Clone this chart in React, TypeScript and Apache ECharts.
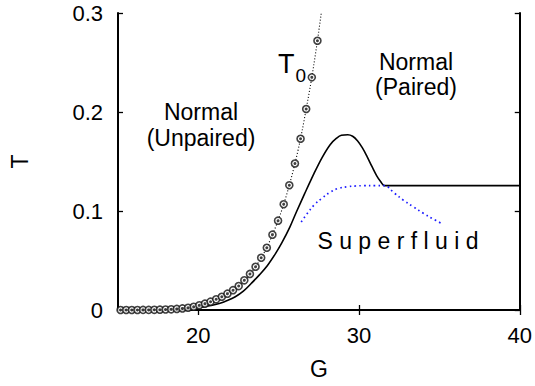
import React, { useEffect, useRef } from "react";
import * as echarts from "echarts";

// T0 (markers)
const t0G = [15.16, 15.51, 15.86, 16.21, 16.56, 16.91, 17.26, 17.61, 17.96, 18.31, 18.66, 19.01, 19.36, 19.71, 20.06, 20.41, 20.76, 21.11, 21.46, 21.81, 22.16, 22.51, 22.86, 23.21, 23.56, 23.91, 24.26, 24.61, 24.96, 25.31, 25.66, 26.01, 26.36, 26.71, 27.06, 27.41];
const t0T = [0, 0, 0, 0, 0.0001, 0.0001, 0.0002, 0.0003, 0.0005, 0.0007, 0.0011, 0.0016, 0.0023, 0.0033, 0.0047, 0.0064, 0.0084, 0.0108, 0.0134, 0.0165, 0.02, 0.0242, 0.03, 0.0364, 0.0437, 0.0528, 0.0629, 0.0761, 0.0902, 0.1068, 0.126, 0.148, 0.173, 0.203, 0.235, 0.272];
// continuation of the T0 dotted line above the frame
const t0ExtraG = [27.8];
const t0ExtraT = [0.318];

// solid curve (Tc)
const tcG = [15, 16, 17, 18, 19, 19.5, 20.2, 20.8, 21.3, 21.8, 22.3, 22.8, 23.3, 23.8, 24.3, 24.8, 25.2, 25.7, 26.1, 26.6, 27.2, 27.7, 28.2, 28.6, 28.9, 29.3, 29.6, 29.9, 30.2, 30.5, 30.8, 31.1, 31.35, 31.58, 35, 40];
const tcT = [0, 0.0001, 0.0002, 0.0004, 0.001, 0.0016, 0.003, 0.0045, 0.0065, 0.0095, 0.0134, 0.019, 0.027, 0.0355, 0.045, 0.057, 0.068, 0.084, 0.099, 0.117, 0.138, 0.154, 0.167, 0.1735, 0.1765, 0.177, 0.1755, 0.171, 0.164, 0.155, 0.145, 0.1355, 0.1295, 0.1256, 0.1256, 0.1256];

// blue dotted curve
const sfG = [26.4, 26.8, 27.2, 27.7, 28.2, 28.7, 29.3, 29.8, 30.3, 31.0, 31.58, 32.2, 32.75, 33.4, 34.0, 34.6, 35.2];
const sfT = [0.089, 0.098, 0.106, 0.113, 0.119, 0.1228, 0.1246, 0.1253, 0.1256, 0.1257, 0.1256, 0.118, 0.111, 0.104, 0.0977, 0.092, 0.0869];

const xTicks = [20, 30, 40];
const yTicks = [0, 0.1, 0.2, 0.3];

const FONT = "'Liberation Sans', Arial, Helvetica, sans-serif";

export default function App() {
  const ref = useRef<HTMLDivElement>(null);
  useEffect(() => {
    if (!ref.current) return;
    const chart = echarts.init(ref.current, undefined, { renderer: "svg" });
    const pair = (a: number[], b: number[]) => a.map((v, i) => [v, b[i]]);
    const t0Data = pair(t0G, t0T);
    const t0Line = t0Data.concat(pair(t0ExtraG, t0ExtraT));
    const axisLine = { show: true, lineStyle: { color: "#000", width: 2 } };
    const tick = { show: true, inside: true, length: 5, lineStyle: { color: "#000", width: 1.3 } };
    const label = { fontFamily: FONT, fontSize: 22, color: "#000" };
    chart.setOption({
      animation: false,
      backgroundColor: "#fff",
      grid: { left: 115, right: 14, top: 13, bottom: 76 },
      xAxis: [
        {
          type: "value",
          min: 15,
          max: 40,
          interval: 5,
          position: "bottom",
          axisLine,
          axisTick: { ...tick, customValues: xTicks },
          axisLabel: {
            ...label,
            margin: 14,
            customValues: xTicks,
            formatter: (v: number) => String(v),
          },
          splitLine: { show: false },
          name: "G",
          nameLocation: "middle",
          nameGap: 47,
          nameTextStyle: { fontFamily: FONT, fontSize: 23, color: "#000" },
        },
        {
          type: "value",
          min: 15,
          max: 40,
          interval: 5,
          position: "top",
          axisLine,
          axisTick: { ...tick, customValues: xTicks },
          axisLabel: { show: false },
          splitLine: { show: false },
        },
      ],
      yAxis: [
        {
          type: "value",
          min: 0,
          max: 0.3,
          interval: 0.1,
          position: "left",
          axisLine,
          axisTick: { ...tick, customValues: yTicks },
          axisLabel: {
            ...label,
            margin: 15,
            customValues: yTicks,
            formatter: (v: number) => (v === 0 ? "0" : v.toFixed(1)),
          },
          splitLine: { show: false },
          name: "T",
          nameLocation: "middle",
          nameGap: 87,
          nameTextStyle: { fontFamily: FONT, fontSize: 23, color: "#000" },
        },
        {
          type: "value",
          min: 0,
          max: 0.3,
          interval: 0.1,
          position: "right",
          axisLine,
          axisTick: { ...tick, customValues: yTicks },
          axisLabel: { show: false },
          splitLine: { show: false },
        },
      ],
      series: [
        {
          type: "line",
          data: t0Line,
          showSymbol: false,
          symbol: "none",
          smooth: 0.3,
          clip: true,
          lineStyle: { color: "#000", width: 1.1, type: [1, 2] },
          z: 2,
        },
        {
          type: "line",
          data: pair(tcG, tcT),
          symbol: "none",
          smooth: 0.35,
          clip: true,
          lineStyle: { color: "#000", width: 1.6 },
          z: 3,
        },
        {
          type: "line",
          data: pair(sfG, sfT),
          symbol: "none",
          smooth: 0.4,
          clip: true,
          lineStyle: { color: "#1a1aff", width: 1.7, type: [1.6, 3.2] },
          z: 3,
        },
        {
          type: "scatter",
          data: t0Data,
          symbol: "circle",
          symbolSize: 7,
          itemStyle: { color: "#fff", borderColor: "#111", borderWidth: 1.6 },
          z: 4,
        },
        {
          type: "scatter",
          data: t0Data,
          symbol: "circle",
          symbolSize: 3,
          itemStyle: { color: "#111" },
          z: 5,
        },
      ],
      graphic: [
        {
          type: "text",
          x: 201,
          y: 125,
          style: {
            text: "Normal\n(Unpaired)",
            fontFamily: FONT,
            fontSize: 23,
            lineHeight: 26,
            fill: "#000",
            align: "center",
            verticalAlign: "middle",
          },
        },
        {
          type: "text",
          x: 416,
          y: 74,
          style: {
            text: "Normal\n(Paired)",
            fontFamily: FONT,
            fontSize: 23,
            lineHeight: 25,
            fill: "#000",
            align: "center",
            verticalAlign: "middle",
          },
        },
        {
          type: "text",
          x: 278,
          y: 50,
          style: {
            text: "{t|T}{s|0}",
            fill: "#000",
            rich: {
              t: { fontFamily: FONT, fontSize: 27, fill: "#000", verticalAlign: "top" },
              s: { fontFamily: FONT, fontSize: 19, fill: "#000", padding: [16, 0, 0, 1] },
            },
          },
        },
        {
          type: "text",
          x: 398,
          y: 241,
          style: {
            text: "S u p e r f l u i d",
            fontFamily: FONT,
            fontSize: 23,
            fill: "#000",
            align: "center",
            verticalAlign: "middle",
          },
        },
      ],
    });
    return () => chart.dispose();
  }, []);
  return (
    <div
      ref={ref}
      style={{ position: "fixed", left: 0, top: 0, width: 535, height: 386, background: "#fff" }}
    />
  );
}
